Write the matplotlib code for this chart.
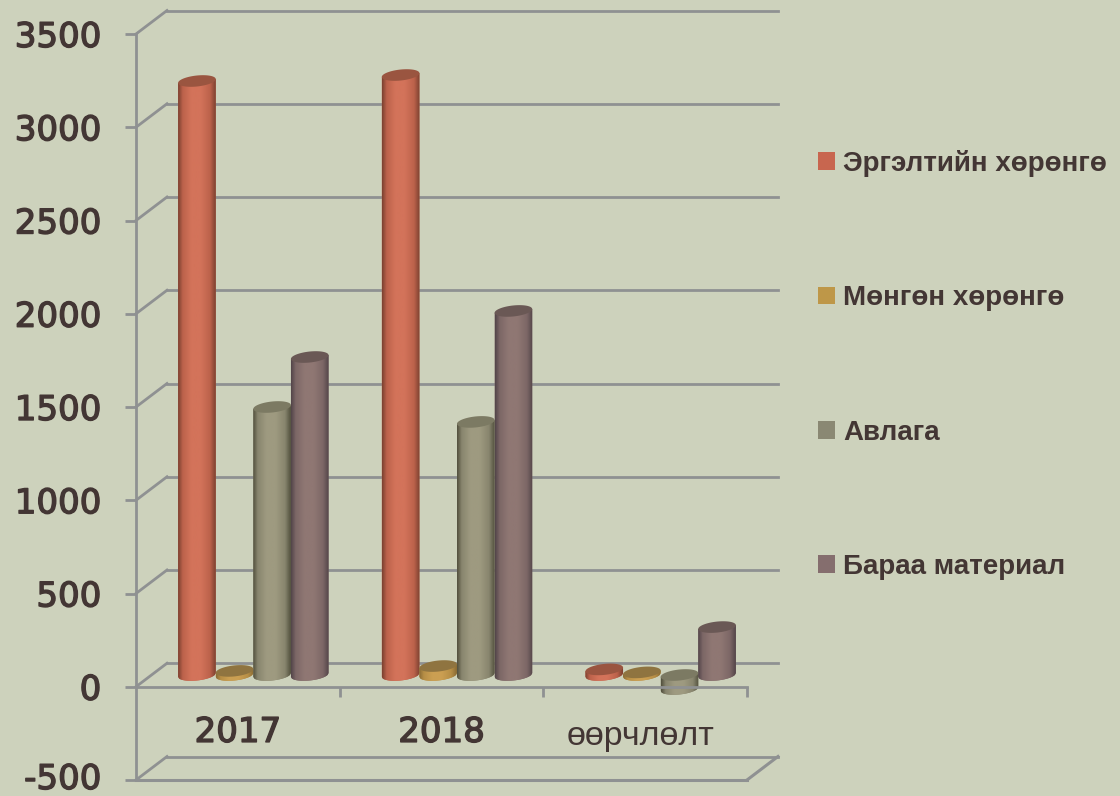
import numpy as np
import matplotlib
matplotlib.use('Agg')
import matplotlib.pyplot as plt
import matplotlib.patheffects as pe
from matplotlib.colors import LinearSegmentedColormap
from matplotlib.patches import Patch, PathPatch
from matplotlib.path import Path
from matplotlib.transforms import Affine2D

#dati
categorie = ['2017', '2018', 'өөрчлөлт']
serie = ['Эргэлтийн хөрөнгө', 'Мөнгөн хөрөнгө', 'Авлага', 'Бараа материал']
ergelt = [3185, 3217, 30]
mongon = [22, 48, 14]
avlaga = [1437, 1357, -75]
baraa = [1705, 1952, 257]
valori = [ergelt, mongon, avlaga, baraa]

tick_y = [-500, 0, 500, 1000, 1500, 2000, 2500, 3000, 3500]

sfondo = '#CDD2BC'
griglia = '#8F9192'
testo = '#433634'
#colori: bordo scuro, medio, chiaro, coperchio, legenda
colori = [
    ('#7E4231', '#BC624B', '#D3735A', '#9A5540', '#C8664F'),
    ('#8A6C35', '#B68E46', '#CB9F52', '#8F7440', '#BE9748'),
    ('#54523F', '#88856E', '#9E9A80', '#7C7A63', '#8A8873'),
    ('#54464A', '#7C6766', '#8F7773', '#6A5855', '#856E6E'),
]

fig = plt.figure(figsize=(11.2, 7.96), dpi=100, facecolor=sfondo)
ax = fig.add_axes([136/1120, 1 - 780/796, 611/1120, 746/796], facecolor='none')

#pixel -> unita dei dati
px_x = 3 / 611
px_y = 4000 / 746
prof_x = 31 * px_x
prof_y = 23.5 * px_y

#griglia sulla parete di fondo e sul lato sinistro
for v in tick_y:
    ax.plot([prof_x, 3 + prof_x], [v + prof_y, v + prof_y], color=griglia, lw=2, clip_on=False, zorder=1)
    ax.plot([0, prof_x], [v, v + prof_y], color=griglia, lw=2, clip_on=False, zorder=1)

#pavimento in basso
ax.plot([0, 3], [-500, -500], color=griglia, lw=2.2, clip_on=False, zorder=1)
ax.plot([3, 3 + prof_x], [-500, -500 + prof_y], color=griglia, lw=2.2, clip_on=False, zorder=1)

#cilindri
larg = 37.6 * px_x
semi_h = 5.5 * px_y
incl = 0.1 * px_y / px_x
t = np.linspace(0, 2 * np.pi, 80)
ordine = 3

for i, val in enumerate(valori):
    scuro, medio, chiaro, coperchio, leg = colori[i]
    cmap = LinearSegmentedColormap.from_list('c', [(0, scuro), (0.12, medio), (0.35, chiaro),
                                                   (0.6, chiaro), (0.85, medio), (1, scuro)])
    for j, v in enumerate(val):
        cx = j + 0.5 + prof_x / 2 + (i - 1.5) * larg
        cx0 = prof_y / 2
        alto = max(v, 0) + cx0
        basso = min(v, 0) + cx0

        #corpo del cilindro
        xb = np.linspace(-larg / 2, larg / 2, 40)
        yb = semi_h * np.sqrt(np.clip(1 - (2 * xb / larg) ** 2, 0, 1))
        px = np.r_[cx + xb, cx + xb[::-1]]
        py = np.r_[basso - yb + incl * xb, alto + (incl * xb)[::-1]]
        corpo = PathPatch(Path(np.c_[px, py]), fc=medio, ec='none', zorder=ordine, clip_on=False)
        ax.add_patch(corpo)
        im = ax.imshow(np.linspace(0, 1, 60).reshape(1, -1), cmap=cmap, aspect='auto',
                       extent=(cx - larg / 2, cx + larg / 2, basso - semi_h * 1.5, alto + semi_h * 1.5),
                       interpolation='bilinear', zorder=ordine + 0.1)
        im.set_clip_path(corpo)

        #coperchio
        ax.fill(cx + larg / 2 * np.cos(t),
                alto + semi_h * np.sin(t) + incl * larg / 2 * np.cos(t),
                color=coperchio, lw=0, zorder=ordine + 0.2, clip_on=False)
        ordine += 0.01

#assi
ax.set_xlim(0, 3)
ax.set_ylim(-500, 3500)
for lato in ['top', 'right']:
    ax.spines[lato].set_visible(False)
ax.spines['bottom'].set_position(('data', 0))
ax.spines['bottom'].set_zorder(10)
ax.spines['bottom'].set_color(griglia)
ax.spines['bottom'].set_linewidth(2)
ax.spines['left'].set_color(griglia)
ax.spines['left'].set_linewidth(2)

ax.set_yticks(tick_y)
ax.set_yticklabels([str(v) for v in tick_y], fontsize=24.5, color=testo, family='DejaVu Sans',
                   path_effects=[pe.withStroke(linewidth=1, foreground=testo)])
ax.tick_params(axis='y', length=8, width=2, color=griglia, pad=17)

#il -500 toccherebbe il bordo, lo alzo un poco
prima = ax.get_yticklabels()[0]
prima.set_transform(prima.get_transform() + Affine2D().translate(0, 4))

ax.set_xticks([1, 2, 3])
ax.set_xticklabels([])
ax.tick_params(axis='x', which='major', length=7.5, width=2, color=griglia)
ax.set_xticks([0.5, 1.5, 2.5], minor=True)
ax.set_xticklabels(categorie, minor=True, fontsize=24.5, color=testo, family='DejaVu Sans',
                   path_effects=[pe.withStroke(linewidth=1, foreground=testo)])
ax.tick_params(axis='x', which='minor', length=0, pad=21)

#l'ultima etichetta ha un altro carattere
ultima = ax.get_xticklabels(minor=True)[2]
ultima.set_family('Liberation Sans')
ultima.set_fontsize(24.5)
ultima.set_path_effects([])
ultima.set_transform(ultima.get_transform() + Affine2D().translate(-5, -5))

#legenda
maniglie = [Patch(facecolor=c[4], edgecolor='none') for c in colori]
fig.legend(maniglie, serie, loc='upper left', bbox_to_anchor=(818/1120, 1 - 150/796),
           frameon=False, prop={'family': 'Liberation Sans', 'weight': 'bold', 'size': 20},
           labelcolor=testo, handlelength=0.61, handleheight=0.61, handletextpad=0.29,
           labelspacing=3.9, borderpad=0, borderaxespad=0)

plt.savefig('out.png', dpi=100, facecolor=sfondo)
